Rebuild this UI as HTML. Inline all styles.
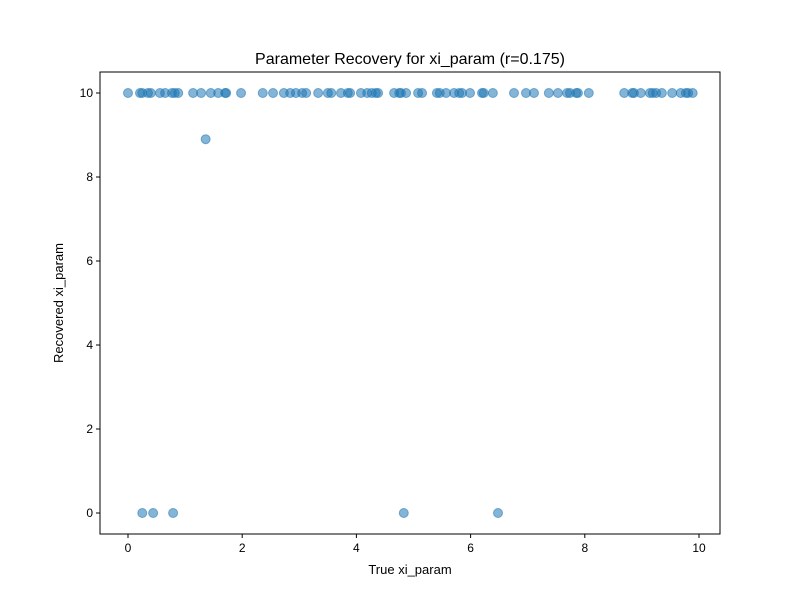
<!DOCTYPE html>
<html><head><meta charset="utf-8"><style>
body{margin:0;background:#fff;}
svg text{font-family:"Liberation Sans",sans-serif;fill:#000;}
</style></head><body>
<svg id="chart" width="800" height="600">
<rect width="800" height="600" fill="#fff"/>
<g id="marks"></g>
<g id="axes"></g>
</svg>
<script>
const trueVals=[0.00,0.21,0.25,0.35,0.40,0.56,0.65,0.77,0.82,0.88,1.14,1.28,1.45,1.58,1.70,1.72,1.98,2.36,2.54,2.73,2.84,2.94,3.05,3.12,3.33,3.50,3.56,3.73,3.85,3.89,4.08,4.19,4.27,4.34,4.38,4.66,4.75,4.78,4.87,5.08,5.15,5.41,5.46,5.57,5.71,5.80,5.85,5.99,6.20,6.23,6.39,6.76,6.97,7.11,7.37,7.53,7.69,7.74,7.85,7.88,8.07,8.69,8.83,8.86,8.98,9.14,9.19,9.25,9.35,9.53,9.68,9.77,9.81,9.89,1.36,0.25,0.44,0.79,4.83,6.48];
const recoveredVals=[10,10,10,10,10,10,10,10,10,10,10,10,10,10,10,10,10,10,10,10,10,10,10,10,10,10,10,10,10,10,10,10,10,10,10,10,10,10,10,10,10,10,10,10,10,10,10,10,10,10,10,10,10,10,10,10,10,10,10,10,10,10,10,10,10,10,10,10,10,10,10,10,10,10,8.9,0,0,0,0,0];
const xTicks=[0,2,4,6,8,10];
const yTicks=[0,2,4,6,8,10];
const L=100,R=720,T=72,B=534;
const xs=v=>128+v*57.1;
const ys=v=>513-v*42;
const NS="http://www.w3.org/2000/svg";
const marks=document.getElementById('marks'),axes=document.getElementById('axes');
function mk(tag,attrs,parent){const e=document.createElementNS(NS,tag);for(const k in attrs)e.setAttribute(k,attrs[k]);parent.appendChild(e);return e;}
trueVals.forEach((v,i)=>{
 const c=mk('circle',{cx:xs(v),cy:ys(recoveredVals[i]),r:4.5,fill:'#1f77b4','fill-opacity':0.55,stroke:'#1f77b4','stroke-opacity':0.55,'stroke-width':1},marks);
 
 
});
const f=mk('rect',{x:L,y:T,width:R-L,height:B-T,fill:'none',stroke:'#000','stroke-width':1},axes);


xTicks.forEach(t=>{
 mk('line',{x1:xs(t),x2:xs(t),y1:B,y2:B+4,stroke:'#000'},axes);
 const tx=mk('text',{x:xs(t),y:B+18,'text-anchor':'middle','font-size':12},axes);tx.textContent=t;
 
 
});
yTicks.forEach(t=>{
 mk('line',{x1:L-4,x2:L,y1:ys(t),y2:ys(t),stroke:'#000'},axes);
 const tx=mk('text',{x:L-7,y:ys(t)+4,'text-anchor':'end','font-size':12},axes);tx.textContent=t;
 
 
});
const ti=mk('text',{x:410,y:64,'text-anchor':'middle','font-size':16},axes);ti.textContent='Parameter Recovery for xi_param (r=0.175)';


const xl=mk('text',{x:410,y:574,'text-anchor':'middle','font-size':13},axes);xl.textContent='True xi_param';


const yl=mk('text',{x:0,y:0,'text-anchor':'middle','font-size':13,transform:'translate(63,303) rotate(-90)'},axes);yl.textContent='Recovered xi_param';


</script>
</body></html>
